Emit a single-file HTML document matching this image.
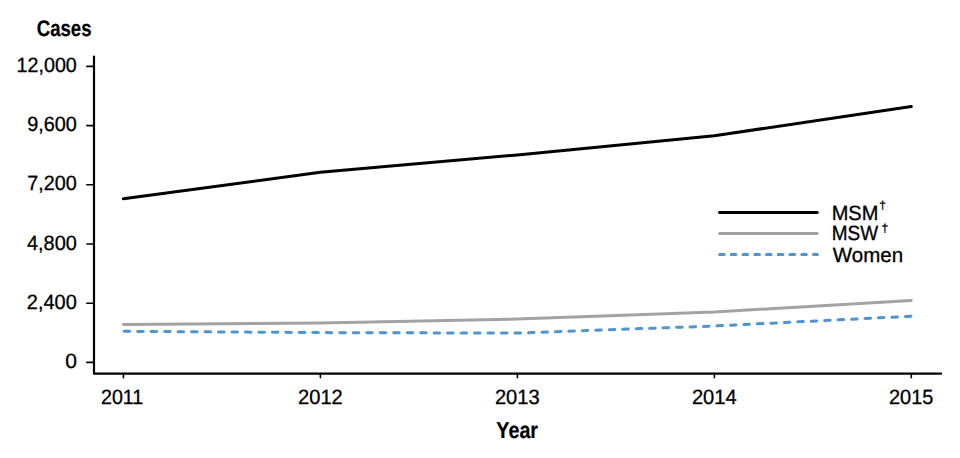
<!DOCTYPE html>
<html>
<head>
<meta charset="utf-8">
<style>
html,body{margin:0;padding:0;background:#fff;}
body{width:960px;height:458px;overflow:hidden;}
svg{display:block;}
text{font-family:"Liberation Sans",sans-serif;fill:#000;text-rendering:geometricPrecision;}
.r{stroke:#000;stroke-width:0.3px;}
.b{stroke:#000;stroke-width:0.2px;}
</style>
</head>
<body>
<svg width="960" height="458" viewBox="0 0 960 458">
<rect width="960" height="458" fill="#fff"/>
<path d="M94.0 56.5 V373.7 H941" fill="none" stroke="#000" stroke-width="2.2" stroke-linecap="round" stroke-linejoin="round"/>
<g stroke="#000" stroke-width="1.6" stroke-linecap="round">
<path d="M86.8 66.4 H94"/>
<path d="M86.8 125.6 H94"/>
<path d="M86.8 184.8 H94"/>
<path d="M86.8 244 H94"/>
<path d="M86.8 303.2 H94"/>
<path d="M86.8 362.4 H94"/>
<path d="M123.4 374 V377.7"/>
<path d="M320.4 374 V377.7"/>
<path d="M517.4 374 V377.7"/>
<path d="M714.4 374 V377.7"/>
<path d="M911.3 374 V377.7"/>
</g>
<text transform="translate(36.76 36.00) scale(0.8242 1)" font-size="22.57" font-weight="bold" class="b">Cases</text>
<text transform="translate(496.36 437.60) scale(0.8564 1)" font-size="23.04" font-weight="bold" class="b">Year</text>
<text transform="translate(16.57 72.10) scale(0.9560 1)" font-size="20.60" class="r">12,000</text>
<text transform="translate(27.16 131.00) scale(0.9629 1)" font-size="20.60" class="r">9,600</text>
<text transform="translate(27.36 190.30) scale(0.9588 1)" font-size="20.60" class="r">7,200</text>
<text transform="translate(26.95 249.50) scale(0.9669 1)" font-size="20.60" class="r">4,800</text>
<text transform="translate(26.85 308.70) scale(0.9689 1)" font-size="20.60" class="r">2,400</text>
<text transform="translate(65.21 368.10) scale(1.0220 1)" font-size="20.60" class="r">0</text>
<text transform="translate(100.97 403.50) scale(0.9543 1)" font-size="20.60" class="r">2011</text>
<text transform="translate(298.05 403.50) scale(0.9754 1)" font-size="20.60" class="r">2012</text>
<text transform="translate(494.89 403.50) scale(0.9766 1)" font-size="20.60" class="r">2013</text>
<text transform="translate(691.89 403.50) scale(0.9765 1)" font-size="20.60" class="r">2014</text>
<text transform="translate(889.00 403.50) scale(0.9675 1)" font-size="20.60" class="r">2015</text>
<text transform="translate(831.65 219.60) scale(0.9709 1)" font-size="20.60" class="r">MSM</text>
<text transform="translate(831.73 240.40) scale(0.9215 1)" font-size="20.60" class="r">MSW</text>
<text transform="translate(832.85 261.70) scale(0.9955 1)" font-size="20.60" class="r">Women</text>
<text class="r" transform="translate(879.22 208.91) scale(1.0659 1)" font-size="11.26">&#8224;</text>
<text class="r" transform="translate(881.52 231.59) scale(1.0370 1)" font-size="11.57">&#8224;</text>
<polyline points="123.4,198.7 320.4,172.3 517.4,154.9 714.4,135.7 911.3,106.6" fill="none" stroke="#000" stroke-width="3" stroke-linecap="round" stroke-linejoin="round"/>
<polyline points="123.4,324.5 320.4,323.0 517.4,319.0 714.4,312.0 911.3,300.5" fill="none" stroke="#a3a3a3" stroke-width="3" stroke-linecap="round" stroke-linejoin="round"/>
<polyline points="124.2,331.3 320.4,332.6 517.4,333.1 714.4,326.0 911.3,316.2" fill="none" stroke="#4e94cf" stroke-width="3" stroke-linecap="round" stroke-linejoin="round" stroke-dasharray="5.55 7.925"/>
<path d="M719.6 212.4 H817.2" stroke="#000" stroke-width="3" stroke-linecap="round"/>
<path d="M719.6 233.5 H817.2" stroke="#a3a3a3" stroke-width="3" stroke-linecap="round"/>
<path d="M719.56 254.6 H817.4" stroke="#4e94cf" stroke-width="3" stroke-linecap="round" stroke-dasharray="4.6 7.14"/>
</svg>
</body>
</html>
